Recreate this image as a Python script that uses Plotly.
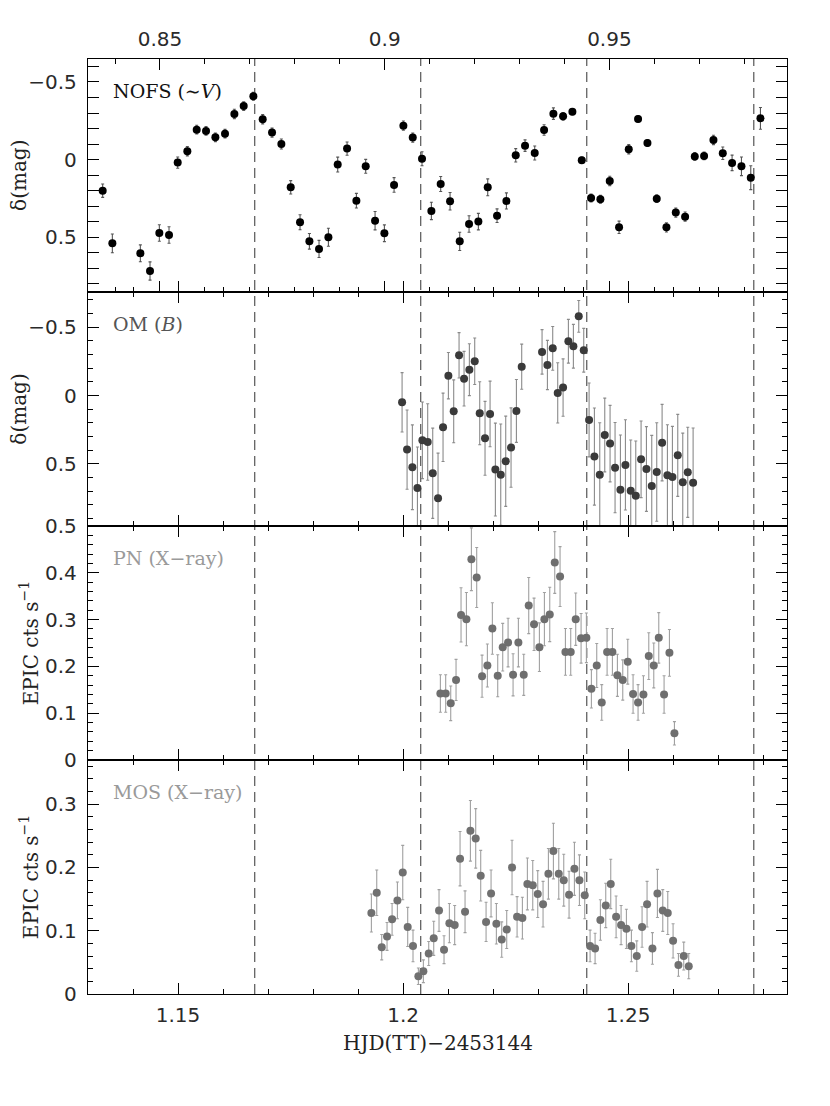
import plotly.graph_objects as go

# NOFS (~V) light curve
nofs_t = [1.13326, 1.13541, 1.14163, 1.14378, 1.14585, 1.14800, 1.14993, 1.15207, 1.15415, 1.15622,
          1.15830, 1.16044, 1.16252, 1.16459, 1.16674, 1.16881, 1.17089, 1.17296, 1.17504, 1.17711,
          1.17919, 1.18133, 1.18341, 1.18548, 1.18756, 1.18963, 1.19170, 1.19378, 1.19585, 1.19800,
          1.20007, 1.20215, 1.20421, 1.20629, 1.20836, 1.21044, 1.21259, 1.21466, 1.21673, 1.21881,
          1.22088, 1.22296, 1.22503, 1.22710, 1.22925, 1.23133, 1.23340, 1.23555, 1.23762, 1.23970,
          1.24177, 1.24384, 1.24592, 1.24799, 1.25014, 1.25221, 1.25429, 1.25636, 1.25851, 1.26059,
          1.26266, 1.26481, 1.26688, 1.26896, 1.27103, 1.27310, 1.27518, 1.27725, 1.27940]
nofs_mag = [0.200, 0.539, 0.603, 0.717, 0.472, 0.485, 0.019, -0.054, -0.193, -0.185,
            -0.144, -0.167, -0.294, -0.345, -0.408, -0.260, -0.174, -0.101, 0.178, 0.403,
            0.526, 0.575, 0.500, 0.032, -0.071, 0.264, 0.043, 0.393, 0.474, 0.163,
            -0.219, -0.142, -0.006, 0.330, 0.157, 0.268, 0.526, 0.414, 0.399, 0.178,
            0.361, 0.266, -0.028, -0.090, -0.043, -0.191, -0.296, -0.279, -0.309, 0.004,
            0.247, 0.255, 0.137, 0.436, -0.067, -0.262, -0.107, 0.251, 0.436, 0.341,
            0.367, -0.021, -0.024, -0.127, -0.041, 0.021, 0.043, 0.116, -0.266]
nofs_err = [0.043, 0.06, 0.054, 0.059, 0.053, 0.053, 0.036, 0.03, 0.028, 0.028,
            0.028, 0.028, 0.03, 0.028, 0.025, 0.03, 0.03, 0.032, 0.043, 0.048,
            0.05, 0.055, 0.058, 0.048, 0.043, 0.047, 0.045, 0.059, 0.054, 0.047,
            0.03, 0.03, 0.045, 0.056, 0.048, 0.056, 0.059, 0.053, 0.053, 0.054,
            0.044, 0.052, 0.043, 0.037, 0.045, 0.034, 0.037, 0.025, 0.02, 0.02,
            0.025, 0.025, 0.03, 0.04, 0.03, 0.02, 0.02, 0.025, 0.03, 0.03,
            0.03, 0.025, 0.025, 0.03, 0.04, 0.05, 0.06, 0.077, 0.07]

# OM (B) light curve
om_t = [1.19978, 1.20089, 1.20207, 1.20319, 1.20429, 1.20547, 1.20659, 1.20777, 1.20888, 1.21007,
        1.21125, 1.21244, 1.21355, 1.21473, 1.21592, 1.21703, 1.21821, 1.21933, 1.22051, 1.22170,
        1.22281, 1.22399, 1.22518, 1.22636, 1.23088, 1.23207, 1.23325, 1.23436, 1.23555, 1.23673,
        1.23784, 1.23903, 1.24014, 1.24133, 1.24251, 1.24370, 1.24481, 1.24599, 1.24710, 1.24829,
        1.24940, 1.25058, 1.25170, 1.25288, 1.25407, 1.25525, 1.25636, 1.25755, 1.25873, 1.25984,
        1.26103, 1.26214, 1.26325, 1.26444]
om_mag = [0.049, 0.395, 0.524, 0.676, 0.327, 0.339, 0.568, 0.751, 0.232, -0.146,
          0.115, -0.295, -0.124, -0.190, -0.251, 0.129, 0.312, 0.134, 0.541, 0.578,
          0.480, 0.380, 0.112, -0.212, -0.320, -0.224, -0.346, -0.020, -0.059, -0.398,
          -0.361, -0.580, -0.332, 0.178, 0.446, 0.578, 0.288, 0.351, 0.527, 0.688,
          0.507, 0.695, 0.732, 0.466, 0.537, 0.661, 0.559, 0.344, 0.583, 0.595,
          0.437, 0.634, 0.561, 0.637]
om_err = [0.217, 0.29, 0.31, 0.3, 0.28, 0.28, 0.33, 0.33, 0.25, 0.17,
          0.23, 0.166, 0.2, 0.19, 0.17, 0.23, 0.27, 0.24, 0.34, 0.37,
          0.33, 0.29, 0.23, 0.165, 0.163, 0.18, 0.16, 0.22, 0.21, 0.16,
          0.16, 0.116, 0.16, 0.27, 0.355, 0.38, 0.27, 0.28, 0.33, 0.4,
          0.33, 0.37, 0.4, 0.28, 0.31, 0.37, 0.36, 0.28, 0.37, 0.37,
          0.3, 0.36, 0.33, 0.4]

# EPIC PN count rate
pn_t = [1.20829, 1.20947, 1.21059, 1.21177, 1.21288, 1.21407, 1.21518, 1.21636, 1.21755, 1.21873,
        1.21984, 1.22103, 1.22214, 1.22333, 1.22444, 1.22562, 1.22681, 1.22792, 1.22910, 1.23029,
        1.23140, 1.23259, 1.23370, 1.23488, 1.23607, 1.23725, 1.23836, 1.23955, 1.24073, 1.24184,
        1.24303, 1.24414, 1.24533, 1.24651, 1.24762, 1.24881, 1.24992, 1.25110, 1.25221, 1.25340,
        1.25459, 1.25570, 1.25681, 1.25799, 1.25918, 1.26029]
pn_rate = [0.142, 0.142, 0.121, 0.171, 0.310, 0.301, 0.429, 0.390, 0.179, 0.202,
           0.281, 0.180, 0.241, 0.251, 0.182, 0.251, 0.182, 0.330, 0.290, 0.241,
           0.301, 0.311, 0.422, 0.392, 0.231, 0.231, 0.301, 0.260, 0.261, 0.152,
           0.202, 0.123, 0.231, 0.231, 0.181, 0.171, 0.210, 0.141, 0.123, 0.140,
           0.222, 0.202, 0.261, 0.140, 0.229, 0.057]
pn_err = [0.04, 0.04, 0.037, 0.044, 0.058, 0.057, 0.067, 0.064, 0.045, 0.046,
          0.055, 0.045, 0.051, 0.052, 0.045, 0.052, 0.044, 0.06, 0.056, 0.052,
          0.057, 0.058, 0.066, 0.064, 0.05, 0.05, 0.056, 0.053, 0.053, 0.041,
          0.047, 0.038, 0.05, 0.05, 0.045, 0.043, 0.048, 0.041, 0.038, 0.04,
          0.05, 0.048, 0.054, 0.04, 0.05, 0.025]

# EPIC MOS count rate
mos_t = [1.19296, 1.19415, 1.19526, 1.19644, 1.19756, 1.19874, 1.19993, 1.20103, 1.20221, 1.20340,
         1.20451, 1.20570, 1.20681, 1.20799, 1.20910, 1.21029, 1.21147, 1.21266, 1.21377, 1.21496,
         1.21614, 1.21725, 1.21844, 1.21955, 1.22073, 1.22192, 1.22303, 1.22421, 1.22533, 1.22651,
         1.22762, 1.22881, 1.22992, 1.23110, 1.23229, 1.23340, 1.23459, 1.23570, 1.23688, 1.23807,
         1.23918, 1.24036, 1.24155, 1.24266, 1.24384, 1.24503, 1.24614, 1.24733, 1.24844, 1.24962,
         1.25073, 1.25192, 1.25310, 1.25421, 1.25540, 1.25651, 1.25770, 1.25881, 1.25999, 1.26118,
         1.26236, 1.26347]
mos_rate = [0.128, 0.160, 0.074, 0.091, 0.118, 0.148, 0.192, 0.106, 0.076, 0.028,
            0.036, 0.064, 0.088, 0.132, 0.070, 0.112, 0.109, 0.214, 0.130, 0.258,
            0.246, 0.187, 0.114, 0.159, 0.111, 0.086, 0.102, 0.200, 0.122, 0.120,
            0.174, 0.172, 0.158, 0.142, 0.190, 0.226, 0.190, 0.180, 0.157, 0.198,
            0.180, 0.156, 0.076, 0.072, 0.117, 0.140, 0.174, 0.122, 0.109, 0.103,
            0.076, 0.060, 0.106, 0.142, 0.072, 0.159, 0.132, 0.128, 0.084, 0.046,
            0.060, 0.044]
mos_err = [0.030, 0.036, 0.02, 0.022, 0.025, 0.029, 0.043, 0.031, 0.025, 0.013,
           0.018, 0.019, 0.027, 0.033, 0.022, 0.031, 0.031, 0.043, 0.033, 0.048,
           0.047, 0.04, 0.031, 0.037, 0.032, 0.028, 0.03, 0.043, 0.032, 0.033,
           0.041, 0.039, 0.037, 0.036, 0.04, 0.044, 0.04, 0.041, 0.037, 0.042,
           0.04, 0.037, 0.025, 0.024, 0.032, 0.035, 0.039, 0.033, 0.031, 0.031,
           0.025, 0.024, 0.032, 0.036, 0.025, 0.038, 0.033, 0.034, 0.027, 0.018,
           0.022, 0.02]

# dashed reference epochs
dash_t = [1.16704, 1.20392, 1.24081, 1.27792]

hjd_range = [1.13, 1.2853]
phase_range = [0.83398, 0.98952]

SERIF = "DejaVu Serif"
SANS = "DejaVu Sans"

panels = [
    # (t, y, err, marker colour, error colour, yrange, dtick, minor, label, label colour)
    (nofs_t, nofs_mag, nofs_err, "#000000", "#555555", [0.854, -0.648], 0.5, 0.1,
     "NOFS (∼<i>V</i>)", "#111111"),
    (om_t, om_mag, om_err, "#3a3a3a", "#8a8a8a", [0.954, -0.756], 0.5, 0.1,
     "OM (<i>B</i>)", "#555555"),
    (pn_t, pn_rate, pn_err, "#6e6e6e", "#a0a0a0", [0, 0.5], 0.1, 0.02,
     "PN (X−ray)", "#9a9a9a"),
    (mos_t, mos_rate, mos_err, "#707070", "#a0a0a0", [0, 0.37], 0.1, 0.02,
     "MOS (X−ray)", "#9a9a9a"),
]
domains = [[0.7505, 1.0], [0.5005, 0.7505], [0.2503, 0.5005], [0.0, 0.2503]]

fig = go.Figure()
# the page body adds an 8px offset, so the figure is 8px smaller and margins shifted
layout = dict(
    width=822, height=1098,
    margin=dict(l=80, r=43, t=51, b=112),
    paper_bgcolor="white", plot_bgcolor="white",
    showlegend=False,
)

axis_base = dict(
    showline=True, linecolor="black", linewidth=1.3,
    ticks="inside", ticklen=11, tickwidth=1, tickcolor="black",
    showgrid=False, zeroline=False,
    tickfont=dict(family=SANS, size=20, color="#2a2a2a"),
)

for i, (t, y, err, mc, ec, yr, dt, mdt, label, lc) in enumerate(panels):
    n = i + 1
    xa = "x" if n == 1 else f"x{n}"
    ya = "y" if n == 1 else f"y{n}"
    fig.add_trace(go.Scatter(
        x=t, y=y, mode="markers", xaxis=xa, yaxis=ya,
        marker=dict(color=mc, size=8, line=dict(width=0)),
        error_y=dict(type="data", array=err, visible=True, color=ec, thickness=1.1, width=1.5),
    ))
    xkey = "xaxis" if n == 1 else f"xaxis{n}"
    ykey = "yaxis" if n == 1 else f"yaxis{n}"
    layout[xkey] = dict(
        axis_base, anchor=ya, range=hjd_range, dtick=0.05, tick0=1.15,
        minor=dict(dtick=0.01, ticklen=5, ticks="inside", tickcolor="black"),
        mirror=(True if n == 1 else "allticks"),
        showticklabels=(n == 4), ticklabelstandoff=3,
    )
    if n > 1:
        layout[xkey]["matches"] = "x"
    layout[ykey] = dict(
        axis_base, anchor=xa, domain=domains[i], range=yr, dtick=dt, tick0=0,
        minor=dict(dtick=mdt, ticklen=5, ticks="inside", tickcolor="black"),
        mirror="allticks", ticklabelstandoff=6,
    )
    ytop = domains[i][1]
    fig.add_annotation(
        text=label, xref="paper", yref="paper", x=0.033, y=ytop - 0.034,
        xanchor="left", yanchor="middle", showarrow=False,
        font=dict(family=SERIF, size=19, color=lc),
    )

# orbital phase along the top
layout["xaxis5"] = dict(
    axis_base, overlaying="x", anchor="y", side="top", range=phase_range,
    dtick=0.05, tick0=0.85, mirror="allticks", ticklabelstandoff=4,
    minor=dict(dtick=0.01, ticklen=5, ticks="inside", tickcolor="black"),
)
fig.add_trace(go.Scatter(x=phase_range, y=[0, 0], xaxis="x5", yaxis="y",
                         mode="markers", marker=dict(opacity=0), hoverinfo="skip"))

fig.update_layout(**layout)

for t0 in dash_t:
    fig.add_shape(type="line", xref="x", yref="paper", x0=t0, x1=t0, y0=0, y1=1,
                  line=dict(color="#555555", width=1.2, dash="10px,6px"), layer="below")

# axis titles
for txt, xp, yc in [("δ(mag)", -0.098, 0.8755), ("δ(mag)", -0.098, 0.6255),
                    ("EPIC cts s<sup>−1</sup>", -0.084, 0.3754), ("EPIC cts s<sup>−1</sup>", -0.084, 0.1252)]:
    fig.add_annotation(text=txt, xref="paper", yref="paper", x=xp, y=yc, textangle=-90,
                       xanchor="center", yanchor="middle", showarrow=False,
                       font=dict(family=SERIF, size=20, color="#222222"))
fig.add_annotation(text="HJD(TT)−2453144", xref="paper", yref="paper", x=0.5, y=-0.0524,
                   xanchor="center", yanchor="middle", showarrow=False,
                   font=dict(family=SERIF, size=20, color="#222222"))

fig.write_html("out.html")
